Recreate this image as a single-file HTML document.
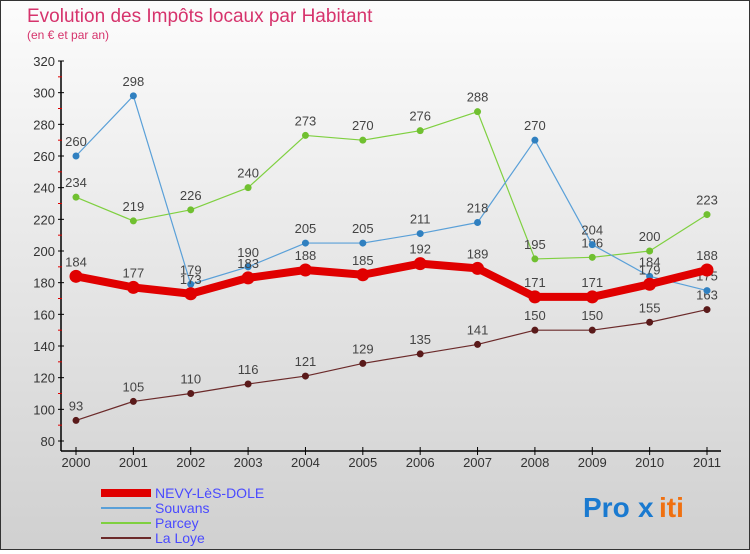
<!DOCTYPE html>
<html><head><meta charset="utf-8"><style>
body{margin:0;width:750px;height:550px;overflow:hidden;font-family:"Liberation Sans",sans-serif}
#c{position:absolute;left:0;top:0;width:748px;height:548px;border:1px solid #333;background:linear-gradient(#fcfcfc,#d0d0d0)}
</style></head><body>
<div id="c">
<svg id="s" width="748" height="548"></svg>
</div>
<script>
const years=["2000","2001","2002","2003","2004","2005","2006","2007","2008","2009","2010","2011"];
const nevy=[184,177,173,183,188,185,192,189,171,171,179,188];
const souvans=[260,298,179,190,205,205,211,218,270,204,184,175];
const parcey=[234,219,226,240,273,270,276,288,195,196,200,223];
const laloye=[93,105,110,116,121,129,135,141,150,150,155,163];
const yTicks=[80,100,120,140,160,180,200,220,240,260,280,300,320];
const NS="http://www.w3.org/2000/svg";
const s=document.getElementById('s');
function X(i){return 75+i*(631/11);}
function Y(v){return 440-(v-80)*380/240;}
function el(t,a,p){const e=document.createElementNS(NS,t);for(const k in a)e.setAttribute(k,a[k]);(p||s).appendChild(e);return e;}
function txt(x,y,str,a){const e=el('text',Object.assign({x:x,y:y},a));e.textContent=str;return e;}
let t=txt(26,21,"Evolution des Impôts locaux par Habitant",{fill:"#d6336c","font-size":19});

t=txt(26,38,"(en € et par an)",{fill:"#d6336c","font-size":12});

// axes
let a=el('line',{x1:60,y1:60,x2:60,y2:450,stroke:"#000","stroke-width":1.5});

a=el('line',{x1:60,y1:450,x2:720,y2:450,stroke:"#000","stroke-width":1.5});

yTicks.forEach((v,i)=>{
 const l=el('line',{x1:57,y1:Y(v),x2:63,y2:Y(v),stroke:"#000"});
 
 if(i<yTicks.length-1){const m=el('line',{x1:57,y1:Y(v+10),x2:61,y2:Y(v+10),stroke:"#d00"});
 }
 const tt=txt(54,Y(v)+5,String(v),{fill:"#333","font-size":13,"text-anchor":"end"});
 
});
years.forEach((y,i)=>{
 const l=el('line',{x1:X(i),y1:446,x2:X(i),y2:454,stroke:"#000"});
 
 const tt=txt(X(i),466,y,{fill:"#333","font-size":13,"text-anchor":"middle"});
 
});
function series(data,color,w,r,dot,name){
 const g=el('g',{});
 
 const pl=el('polyline',{points:data.map((v,i)=>X(i)+","+Y(v)).join(" "),fill:"none",stroke:color,"stroke-width":w,"stroke-linejoin":"round"},g);
 
 data.forEach((v,i)=>{
  const c=el('circle',{cx:X(i),cy:Y(v),r:r,fill:dot},g);
  
  const lb=txt(X(i),Y(v)-10,String(v),{fill:"#444","font-size":13,"text-anchor":"middle"},g);
  
 });
}
series(laloye,"#6b2a2a",1.2,3.5,"#5a1a1a","la-loye");
series(parcey,"#7fd040",1.2,3.5,"#70c030","parcey");
series(souvans,"#5aa0d8",1.2,3.5,"#3080c0","souvans");
series(nevy,"#e00000",8,6.5,"#e00000","nevy");
// legend
const leg=[["NEVY-LèS-DOLE","#e00000",8],["Souvans","#5aa0d8",2],["Parcey","#7fd040",2],["La Loye","#6b2a2a",2]];
leg.forEach((d,i)=>{
 const y=492+i*15;
 const l=el('line',{x1:100,y1:y,x2:150,y2:y,stroke:d[1],"stroke-width":d[2]});
 
 const tt=txt(154,y+5,d[0],{fill:"#4a4aff","font-size":14});
 
});
t=txt(582,516,"Pro",{fill:"#1a7ad0","font-size":28,"font-weight":"bold"});

t=txt(637,516,"x",{fill:"#1a7ad0","font-size":28,"font-weight":"bold"});

t=txt(658,516,"iti",{fill:"#f07010","font-size":28,"font-weight":"bold"});

</script>
</body></html>
